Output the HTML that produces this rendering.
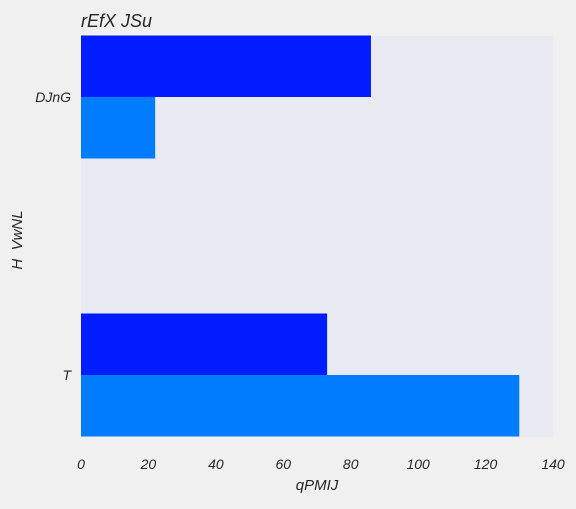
<!DOCTYPE html>
<html><head><meta charset="utf-8"><style>
body{margin:0;background:#f0f0f0;}
svg text{font-family:"Liberation Sans",sans-serif;font-style:italic;fill:#262626;white-space:pre;}
</style></head><body>
<svg id="c" width="576" height="504">
<rect x="81" y="36" width="472" height="401" fill="#eaeaf2"/>
<text x="81" y="27" font-size="18">rEfX JSu</text>
<text x="317" y="490" font-size="15" text-anchor="middle">qPMIJ</text>
<text transform="translate(22,240) rotate(-90)" font-size="15" text-anchor="middle">H  VwNL</text>
</svg>
<script>
const categories=["DJnG","T"];
const seriesA=[86,73];
const seriesB=[22,130];
const xTicks=[0,20,40,60,80,100,120,140];
const svg=document.getElementById('c');
const NS="http://www.w3.org/2000/svg";
const x0=81,x1=553,xmax=140;
const xs=v=>x0+v/xmax*(x1-x0);
const yc=i=>97+i*278;
const bh=61.5;
function mk(t,a){const e=document.createElementNS(NS,t);for(const k in a)e.setAttribute(k,a[k]);svg.appendChild(e);return e;}
xTicks.forEach(v=>{
  const t=mk('text',{x:xs(v),y:469,'font-size':14,'text-anchor':'middle'});
  t.textContent=v;
  
  
});
categories.forEach((c,i)=>{
  const a=mk('rect',{x:x0,y:yc(i)-bh,width:xs(seriesA[i])-x0,height:bh,fill:'#001cff'});
  
  
  const b=mk('rect',{x:x0,y:yc(i),width:xs(seriesB[i])-x0,height:bh,fill:'#007dff'});
  
  
  const t=mk('text',{x:71,y:yc(i)+5,'font-size':14,'text-anchor':'end'});
  t.textContent=c;
  
  
});
</script>
</body></html>
